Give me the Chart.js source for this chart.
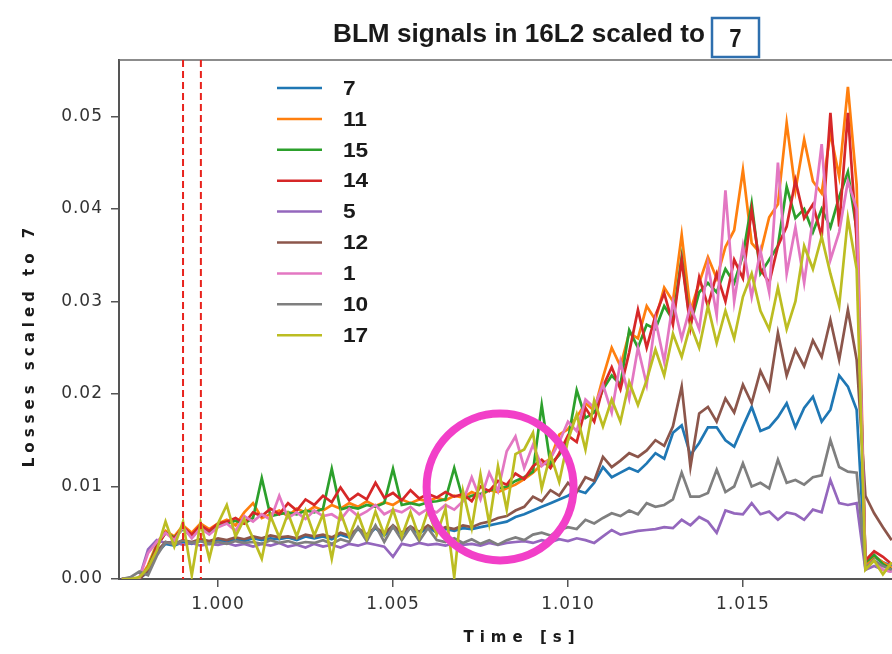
<!DOCTYPE html>
<html>
<head>
<meta charset="utf-8">
<script src="https://cdn.jsdelivr.net/npm/chart.js@4"></script>
<style>
  html, body { margin: 0; padding: 0; background: #fff; }
  #wrap { position: relative; width: 892px; height: 654px; }
</style>
</head>
<body>
<div id="wrap"><canvas id="blm"></canvas></div>
<script>
// acquisition grid: 0.25 ms samples starting at 0.99725 s
const t0 = 0.99725, dt = 0.00025, nSamples = 89
const times = Array.from({length: nSamples}, (_, i) => +(t0 + i * dt).toFixed(5))

// losses scaled to monitor 7, stored in units of 1e-3
const blm7 = [0, 0, 0, 0.8, 2.8, 3.8, 3.6, 4.0, 3.8, 4.1, 3.9,
  4.2, 4.0, 4.3, 4.1, 4.4, 4.2, 4.4, 4.3, 4.5, 4.2, 4.6,
  4.4, 4.6, 4.3, 4.8, 4.5, 5.4, 4.6, 5.5, 4.7, 5.6, 4.8,
  5.5, 4.9, 5.6, 5.0, 5.4, 5.2, 5.5, 5.4, 5.6, 5.8, 6.0,
  6.2, 6.7, 7.0, 7.4, 7.8, 8.2, 8.6, 9.0, 9.6, 9.3, 10.4,
  12.1, 11.0, 11.5, 12.0, 11.6, 12.5, 13.6, 13.0, 15.8, 16.6, 13.4,
  14.7, 16.4, 16.4, 15.0, 14.3, 16.5, 18.6, 16.0, 16.4, 17.5, 19.0,
  16.4, 18.5, 19.7, 17.0, 18.3, 22.0, 20.8, 18.3, 1.5, 2.4, 1.8, 1.4]
const blm11 = [0, 0, 0, 1.5, 3.8, 5.2, 4.6, 5.8, 5.0, 6.0, 5.4,
  6.0, 6.4, 5.8, 7.2, 8.2, 6.6, 7.0, 7.4, 6.8, 7.6, 7.2,
  7.8, 7.4, 8.0, 7.6, 8.2, 7.8, 8.4, 7.9, 8.3, 8.0, 8.6,
  8.2, 8.6, 8.4, 8.8, 8.5, 9.0, 8.8, 9.4, 9.0, 9.6, 9.4,
  9.8, 10.2, 10.8, 11.5, 12.4, 13.0, 15.6, 16.2, 17.5, 19.0, 18.2,
  21.8, 25.0, 23.0, 26.6, 26.0, 29.5, 28.0, 31.5, 30.0, 37.2, 29.0,
  32.0, 34.8, 32.5, 35.9, 37.7, 44.2, 36.3, 35.2, 39.1, 40.5, 49.3,
  42.0, 47.5, 43.0, 41.7, 48.2, 43.5, 53.2, 42.6, 1.5, 2.5, 1.8, 1.2]
const blm15 = [0, 0, 0, 1.2, 3.6, 5.0, 4.5, 5.4, 4.6, 5.6, 5.0,
  5.8, 6.0, 6.3, 6.0, 6.6, 10.9, 6.8, 7.0, 7.2, 7.0, 7.4,
  7.2, 7.6, 11.9, 7.5, 7.8, 7.6, 8.0, 7.8, 8.2, 11.9, 8.0,
  8.2, 8.0, 8.3, 8.4, 8.6, 12.0, 8.6, 9.0, 9.2, 9.6, 9.8,
  10.0, 10.6, 11.0, 11.6, 18.8, 12.4, 13.4, 15.0, 20.4, 17.4, 18.0,
  20.5, 22.0, 21.0, 26.9, 25.0, 27.5, 27.0, 29.5, 28.0, 34.8, 27.5,
  31.0, 32.0, 31.0, 33.5, 32.0, 35.0, 40.6, 33.0, 34.5, 36.0, 42.4,
  39.0, 40.0, 37.5, 40.0, 38.0, 41.3, 44.0, 37.7, 1.8, 2.6, 1.6, 1.0]
const blm14 = [0, 0, 0, 1.0, 3.5, 5.0, 4.4, 5.6, 4.8, 5.8, 5.2,
  6.0, 6.2, 6.6, 6.0, 7.2, 6.8, 7.6, 7.0, 8.2, 7.4, 8.6,
  8.0, 9.0, 8.3, 9.9, 8.5, 9.2, 8.6, 10.4, 8.8, 9.3, 8.5,
  9.6, 8.7, 9.2, 8.8, 9.4, 8.9, 9.2, 8.4, 10.0, 9.5, 10.6,
  10.2, 11.4, 10.8, 12.2, 12.9, 12.0, 13.6, 15.5, 14.8, 18.5, 17.0,
  20.8, 22.9, 20.5, 24.5, 29.1, 25.0, 28.5, 30.9, 27.5, 34.5, 27.2,
  32.6, 29.5, 33.0, 30.0, 34.5, 32.5, 39.9, 33.5, 32.0, 36.0, 38.1,
  43.1, 39.0, 40.5, 37.0, 50.4, 38.1, 50.4, 36.6, 2.0, 3.0, 2.4, 1.6]
const blm5 = [0, 0, 0.1, 3.2, 4.2, 3.9, 4.0, 3.7, 3.9, 3.6, 3.8,
  3.7, 3.9, 3.6, 3.8, 3.5, 3.8, 3.6, 3.9, 3.5, 3.7, 3.4,
  3.8, 3.5, 3.7, 3.4, 3.8, 3.6, 3.9, 3.7, 3.5, 2.4, 3.8,
  3.6, 3.9, 3.7, 3.8, 3.6, 3.9, 3.7, 3.8, 3.6, 3.9, 3.7,
  3.9, 4.0, 4.1, 3.9, 4.2, 4.0, 4.3, 4.1, 4.4, 4.2, 3.9,
  4.6, 5.3, 4.8, 5.0, 5.2, 5.3, 5.4, 5.6, 5.5, 6.4, 5.8,
  6.7, 6.2, 5.0, 7.4, 7.1, 7.0, 8.2, 7.0, 7.3, 6.4, 7.2,
  7.0, 6.4, 7.5, 7.2, 10.7, 8.2, 8.0, 8.2, 1.0, 1.4, 1.0, 0.8]
const blm12 = [0, 0, 0, 1.0, 3.0, 4.0, 3.8, 4.2, 4.0, 4.3, 4.1,
  4.4, 4.2, 4.5, 4.3, 4.6, 4.4, 4.7, 4.5, 4.6, 4.4, 4.8,
  4.6, 4.8, 4.5, 5.0, 4.7, 5.5, 4.8, 5.6, 4.9, 5.8, 5.0,
  5.7, 5.1, 5.8, 5.2, 5.6, 5.4, 5.8, 5.6, 6.0, 6.2, 6.6,
  6.8, 7.4, 7.8, 8.9, 8.4, 9.6, 9.0, 10.4, 9.4, 11.0, 10.6,
  13.2, 12.1, 12.8, 13.6, 13.2, 13.9, 15.0, 14.4, 16.5, 20.8, 12.1,
  17.9, 18.6, 17.0, 19.5, 18.0, 21.0, 19.0, 22.5, 20.5, 26.6, 22.0,
  24.8, 23.0, 25.8, 24.0, 28.0, 23.7, 29.1, 23.7, 9.0, 7.1, 5.6, 4.2]
const blm1 = [0, 0, 0.1, 2.8, 4.0, 5.0, 4.2, 5.6, 4.4, 5.5, 4.8,
  5.6, 6.0, 5.2, 6.8, 6.2, 7.0, 6.4, 9.0, 6.6, 7.2, 6.5,
  7.4, 6.8, 7.0, 6.4, 7.6, 6.8, 7.3, 8.0, 7.0, 7.5, 7.2,
  7.8, 7.0, 7.6, 7.2, 8.0, 7.5, 8.4, 11.0, 8.6, 11.5, 9.5,
  13.8, 15.4, 12.0, 14.5, 12.2, 13.0, 14.8, 17.0, 16.0, 19.4, 18.5,
  21.0, 18.0, 23.5, 19.5, 25.0, 21.0, 28.0, 23.5, 30.0, 26.0, 29.5,
  27.0, 34.0, 28.5, 42.0, 30.0, 36.0, 30.5, 35.5, 31.0, 45.0, 33.0,
  38.0, 32.0, 39.0, 47.0, 34.5, 37.5, 43.0, 40.0, 1.2, 2.0, 1.0, 0.8]
const blm10 = [0, 0.2, 0.8, 0.4, 2.5, 4.0, 3.7, 4.2, 3.9, 4.1, 3.8,
  4.0, 3.8, 4.1, 3.9, 4.0, 3.8, 4.2, 3.9, 4.1, 3.8, 4.0,
  3.9, 4.2, 3.8, 4.3, 4.0, 5.6, 4.1, 5.8, 4.0, 5.7, 4.2,
  5.6, 4.1, 5.5, 4.2, 4.0, 4.4, 3.9, 4.3, 3.8, 4.2, 3.7,
  4.2, 4.5, 4.2, 4.8, 5.0, 4.7, 5.3, 5.6, 5.4, 6.4, 6.0,
  6.6, 7.1, 6.8, 7.4, 7.0, 8.2, 7.8, 8.0, 8.6, 11.5, 8.9,
  8.9, 9.3, 11.8, 9.4, 10.0, 12.5, 10.0, 10.4, 9.8, 12.9, 10.4,
  10.7, 10.2, 11.0, 11.2, 15.0, 12.1, 11.6, 11.5, 1.2, 2.0, 1.4, 1.0]
const blm17 = [0, 0, 0.2, 1.2, 3.1, 6.2, 3.5, 6.2, 0.4, 6.1, 2.2,
  6.0, 8.0, 4.6, 6.5, 4.4, 2.2, 6.8, 4.5, 7.1, 4.6, 7.4,
  4.7, 7.0, 2.2, 7.2, 4.6, 7.0, 4.4, 7.3, 4.8, 7.5, 4.6,
  7.2, 4.5, 7.4, 4.8, 7.6, 0.2, 9.5, 5.5, 11.3, 6.0, 12.2,
  7.5, 13.5, 14.0, 15.8, 9.8, 13.5, 10.5, 15.0, 17.8, 14.0, 19.3,
  16.5, 19.4, 17.0, 21.3, 18.8, 21.5, 24.8, 22.0, 26.5, 24.0, 27.5,
  25.0, 29.5, 25.5, 29.0, 26.0, 30.5, 33.0, 29.0, 27.0, 31.5, 27.0,
  30.0, 36.0, 33.5, 37.0, 33.0, 29.5, 39.0, 33.5, 1.0, 2.0, 0.5, 1.8]

// monitor names in legend order, with their traces and colours
const monitors = ['7', '11', '15', '14', '5', '12', '1', '10', '17']
const traces = [blm7, blm11, blm15, blm14, blm5, blm12, blm1, blm10, blm17]
const colors = ['#1f77b4', '#ff7f0e', '#2ca02c', '#d62728', '#9467bd',
  '#8c564b', '#e377c2', '#7f7f7f', '#bcbd22']

const xTicks = [1.000, 1.005, 1.010, 1.015]
const yTicks = [0.00, 0.01, 0.02, 0.03, 0.04, 0.05]

// trigger window markers [s] and the highlighted region
const markerTimes = [0.99900, 0.99951]
const ring = {t: 1.00806, v: 0.00995, r: 0.0021}

const tickFont = {family: 'DejaVu Sans', size: 17}

const decorations = {
  id: 'decorations',
  beforeDraw(chart) {
    chart.ctx.letterSpacing = '1px'
  },
  afterDatasetsDraw(chart) {
    const {ctx, chartArea: a, scales: {x, y}} = chart
    ctx.save()
    ctx.letterSpacing = '0px'

    // frame line along the top
    ctx.strokeStyle = '#666'
    ctx.lineWidth = 1.5
    ctx.beginPath()
    ctx.moveTo(a.left, a.top)
    ctx.lineTo(a.right, a.top)
    ctx.stroke()

    // dashed trigger markers
    ctx.strokeStyle = '#e8231d'
    ctx.lineWidth = 2
    ctx.setLineDash([7, 4])
    markerTimes.forEach(t => {
      const px = x.getPixelForValue(t)
      ctx.beginPath()
      ctx.moveTo(px, a.top)
      ctx.lineTo(px, a.bottom)
      ctx.stroke()
    })
    ctx.setLineDash([])

    // highlight ring
    const cx = x.getPixelForValue(ring.t)
    const cy = y.getPixelForValue(ring.v)
    const rad = x.getPixelForValue(ring.t + ring.r) - cx
    ctx.strokeStyle = '#f23fc8'
    ctx.lineWidth = 8
    ctx.beginPath()
    ctx.arc(cx, cy, rad, 0, Math.PI * 2)
    ctx.stroke()

    // legend inside the axes
    ctx.font = 'bold 21px "Liberation Sans Narrow", "Liberation Sans", sans-serif'
    ctx.textBaseline = 'middle'
    ctx.textAlign = 'left'
    monitors.forEach((m, k) => {
      const ry = a.top + 28 + k * 30.9
      ctx.strokeStyle = colors[k]
      ctx.lineWidth = 2.5
      ctx.beginPath()
      ctx.moveTo(a.left + 158, ry)
      ctx.lineTo(a.left + 203, ry)
      ctx.stroke()
      ctx.fillStyle = '#1a1a1a'
      ctx.save()
      ctx.translate(a.left + 224, ry + 1)
      ctx.scale(1.08, 1)
      ctx.fillText(m, 0, 0)
      ctx.restore()
    })
    ctx.restore()
  },
  afterDraw(chart) {
    const {ctx} = chart
    ctx.save()
    ctx.fillStyle = '#1a1a1a'

    // title, with the reference monitor boxed
    ctx.letterSpacing = '0px'
    ctx.font = 'bold 26px "Liberation Sans Narrow", "Liberation Sans", sans-serif'
    ctx.textBaseline = 'alphabetic'
    ctx.textAlign = 'left'
    const title = 'BLM signals in 16L2 scaled to'
    const w = ctx.measureText(title).width
    ctx.save()
    ctx.translate(333, 42)
    ctx.scale(372 / w, 1)
    ctx.fillText(title, 0, 0)
    ctx.restore()
    ctx.strokeStyle = '#2e6fae'
    ctx.lineWidth = 2.5
    ctx.strokeRect(712, 18, 47, 39)
    ctx.save()
    ctx.translate(735.5, 47)
    ctx.scale(0.85, 1)
    ctx.textAlign = 'center'
    ctx.fillText(monitors[0], 0, 0)
    ctx.restore()

    // axis titles
    ctx.font = 'bold 15px "DejaVu Sans", sans-serif'
    ctx.textBaseline = 'middle'
    ctx.letterSpacing = '6px'
    ctx.textAlign = 'left'
    const xt = 'Time [s]'
    const xw = ctx.measureText(xt).width
    ctx.fillText(xt, 522 - xw / 2, 638)
    ctx.letterSpacing = '5px'
    const yt = 'Losses scaled to 7'
    const yw = ctx.measureText(yt).width
    ctx.translate(30, 345)
    ctx.rotate(-Math.PI / 2)
    ctx.fillText(yt, -yw / 2, 0)
    ctx.restore()
  }
}

new Chart(document.getElementById('blm'), {
  type: 'line',
  data: {
    datasets: monitors.map((m, k) => ({
      label: m,
      data: times.map((t, i) => ({x: t, y: traces[k][i] / 1000})),
      borderColor: colors[k],
      borderWidth: 2.7,
      pointRadius: 0,
      tension: 0,
      order: monitors.length - 1 - k
    }))
  },
  options: {
    responsive: true,
    maintainAspectRatio: false,
    animation: false,
    layout: {padding: {top: 60, left: 0, right: 0, bottom: 0}},
    scales: {
      x: {
        type: 'linear',
        min: 0.99717,
        max: 1.01926,
        afterFit: s => { s.height = 75 },
        afterBuildTicks: s => { s.ticks = xTicks.map(v => ({value: v})) },
        ticks: {
          font: tickFont,
          color: '#333',
          padding: 7,
          maxRotation: 0,
          callback: v => v.toFixed(3)
        },
        grid: {drawOnChartArea: false, drawTicks: true, tickLength: 8, color: '#555', lineWidth: 1.5},
        border: {display: true, color: '#555', width: 2}
      },
      y: {
        type: 'linear',
        min: 0,
        max: 0.0561,
        afterFit: s => { s.width = 119 },
        afterBuildTicks: s => { s.ticks = yTicks.map(v => ({value: v})) },
        ticks: {
          font: tickFont,
          color: '#333',
          padding: 8,
          callback: v => v.toFixed(2)
        },
        grid: {drawOnChartArea: false, drawTicks: true, tickLength: 8, color: '#555', lineWidth: 1.5},
        border: {display: true, color: '#555', width: 2}
      }
    },
    plugins: {
      legend: {display: false},
      tooltip: {enabled: false},
      title: {display: false}
    }
  },
  plugins: [decorations]
})
</script>
</body>
</html>
